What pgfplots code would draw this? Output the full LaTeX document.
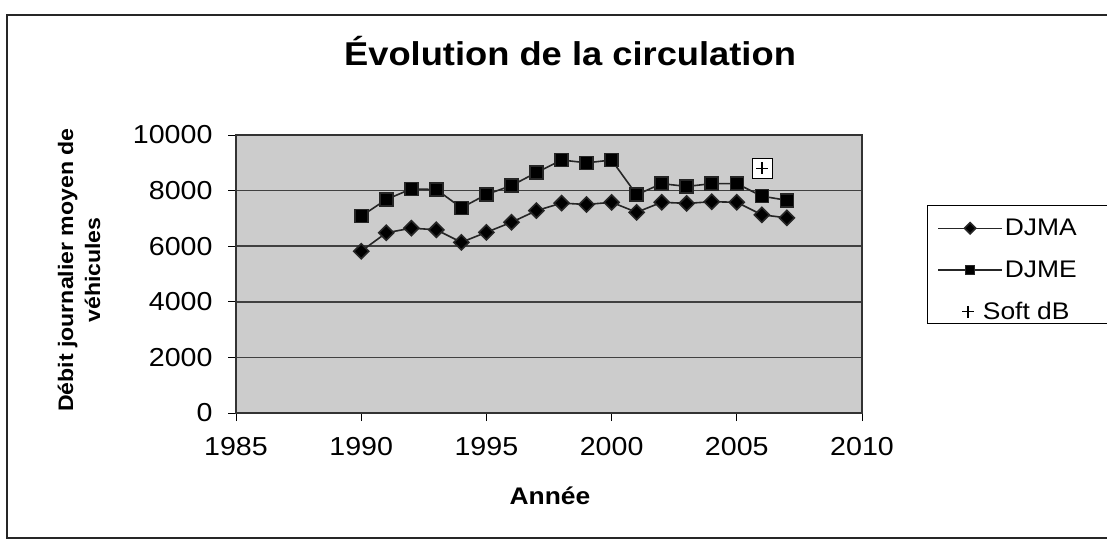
\documentclass[border=0pt]{standalone}
\usepackage{pgfplots}
\pgfplotsset{compat=1.18}
\usepackage{fontspec}
\setmainfont{Liberation Sans}[FakeStretch=1.1]
\begin{document}
\begin{tikzpicture}
\path[use as bounding box] (0pt,0pt) rectangle (1107pt,-540pt);
\draw[line width=1.5pt, black!85] (7pt,-15pt) rectangle (1120pt,-538pt);
\draw[line width=1pt, black, fill=white] (927pt,-205pt) rectangle (1125pt,-323pt);
\node[font=\fontsize{33}{38}\selectfont\bfseries] at (570pt,-51pt) {Évolution de la circulation};
\node[rotate=90, align=center, font=\fontsize{21}{27}\selectfont\bfseries] at (79pt,-270pt) {Débit journalier moyen de\\véhicules};
\node[font=\fontsize{24}{28}\selectfont\bfseries] at (550pt,-496pt) {Année};
\begin{axis}[
 at={(236pt,-413pt)}, anchor=south west, scale only axis, width=626pt, height=278pt,
 xmin=1985, xmax=2010, ymin=0, ymax=10000,
 xtick={1985,1990,...,2010}, ytick={0,2000,...,10000},
 scaled y ticks=false, scaled x ticks=false,
 /pgf/number format/1000 sep={}, /pgf/number format/assume math mode=true,
 tick label style={font=\fontsize{26}{30}\selectfont},
 yticklabel style={xshift=-12pt},
 xticklabel style={yshift=-13pt},
 tick align=outside, major tick length=8pt, tick style={black, line width=1pt},
 xtick pos=bottom, ytick pos=left,
 ymajorgrids, grid style={black!75, line width=1.5pt},
 axis background/.style={fill=black!20},
 axis line style={black!80, line width=1.2pt},
 legend style={at={(1.104,0.737)}, anchor=north west, draw=none, fill=none,
   font=\fontsize{24}{28}\selectfont, row sep=19.5pt, inner xsep=10pt, inner ysep=9pt,
   cells={anchor=west}},
 legend cell align=left,
]
\addplot[black!85, line width=1.6pt, mark=square*, mark size=5.3pt, mark options={fill=black, solid, rotate=45},
  legend image code/.code={\draw[mark repeat=2, mark phase=2, mark size=4pt] plot coordinates {(0pt,0pt)(32pt,0pt)(64pt,0pt)};}]
 coordinates {
 (1990,5820) (1991,6480) (1992,6650) (1993,6590) (1994,6140) (1995,6500)
 (1996,6860) (1997,7280) (1998,7550) (1999,7500) (2000,7580) (2001,7220)
 (2002,7580) (2003,7540) (2004,7600) (2005,7580) (2006,7130) (2007,7020)};
\addlegendentry{DJMA}
\addplot[black!85, line width=1.6pt, mark=square*, mark size=6.5pt, mark options={fill=black, solid},
  legend image code/.code={\draw[mark repeat=2, mark phase=2, mark size=4.5pt] plot coordinates {(0pt,0pt)(32pt,0pt)(64pt,0pt)};}]
 coordinates {
 (1990,7080) (1991,7680) (1992,8060) (1993,8040) (1994,7380) (1995,7860)
 (1996,8180) (1997,8650) (1998,9100) (1999,9000) (2000,9100) (2001,7850)
 (2002,8250) (2003,8150) (2004,8250) (2005,8250) (2006,7800) (2007,7650)};
\addlegendentry{DJME}
\addplot[only marks, mark=square*, mark size=10pt, mark options={fill=white, draw=none}, forget plot]
 coordinates {(2006,8800)};
\addplot[only marks, black, mark=+, mark size=6pt, mark options={line width=1.3pt},
  legend image code/.code={\path[draw=none] (0pt,0pt) -- (64pt,0pt); \draw[mark size=6pt] plot coordinates {(30pt,0pt)};}]
 coordinates {(2006,8800)};
\addlegendentry{\hspace{-22pt}Soft dB}
\end{axis}
\end{tikzpicture}
\end{document}
